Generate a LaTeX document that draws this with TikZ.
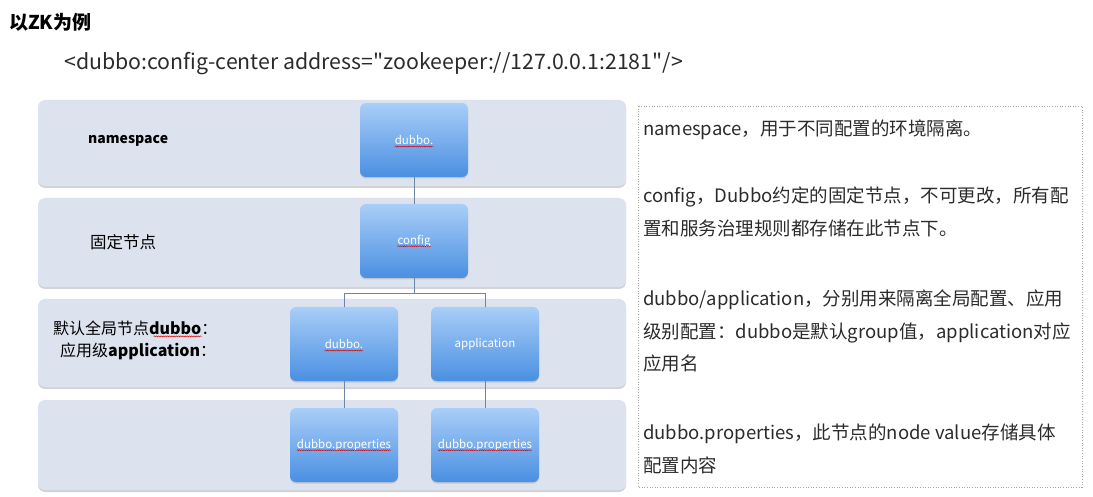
\documentclass[tikz,border=0pt]{standalone}
\usepackage{fontspec}
\setmainfont{Noto Sans CJK SC}[Ligatures=TeXOff]
\usetikzlibrary{shadows,decorations.pathmorphing}
\definecolor{bandfill}{HTML}{DDE3EE}
\definecolor{boxtop}{HTML}{A9CEF8}
\definecolor{boxbot}{HTML}{4A8FE1}
\definecolor{linkc}{HTML}{6E86A6}
\definecolor{txt}{HTML}{2B2B2B}
\begin{document}
\begin{tikzpicture}[x=1pt,y=-1pt]

    \tikzset{
      band/.style={
        fill=bandfill,
        rounded corners=7pt,
        drop shadow={shadow xshift=0pt,shadow yshift=-2pt,opacity=0.35},
      },
      leaf/.style={
        rounded corners=6pt,
        top color=boxtop,
        bottom color=boxbot,
        minimum width=108pt,
        minimum height=74pt,
        inner sep=0pt,
        drop shadow={shadow xshift=0pt,shadow yshift=-1.5pt,opacity=0.3},
      },
      leaftext/.style={
        text=white,
        inner sep=0pt,
        font=\fontsize{11.5}{13}\selectfont,
      },
      squiggle/.style={
        draw=red!85!black,
        line width=0.45pt,
        decorate,
        decoration={snake,amplitude=0.55pt,segment length=2.2pt},
      },
      link/.style={draw=linkc,line width=0.9pt},
      panel/.style={draw=black!35,line width=0.7pt,dash pattern=on 1pt off 1.6pt},
      note/.style={
        anchor=west,
        align=left,
        inner sep=0pt,
        text=txt,
        font=\fontsize{18.5}{32.5}\selectfont,
      },
    }
    \useasboundingbox (0,0) rectangle (1093,497);

    \node[anchor=west,inner sep=0pt,font=\bfseries\fontsize{19}{21}\selectfont] (title) at (9,22) {以ZK为例};
    \node[anchor=west,inner sep=0pt,text=txt,font=\fontsize{21.3}{23}\selectfont] (cfgline) at (64,64) {<dubbo:config-center address="zookeeper://127.0.0.1:2181"/>};

    % levels
    \fill[band] (38,100) rectangle (626,186);
    \fill[band] (38,198) rectangle (626,287);
    \fill[band] (38,299) rectangle (626,387);
    \fill[band] (38,400) rectangle (626,490);

    \node[anchor=west,inner sep=0pt,font=\bfseries\fontsize{14}{16}\selectfont] (nslbl) at (88,141) {namespace};
    \node[anchor=west,inner sep=0pt,font=\fontsize{16.5}{18}\selectfont] (fixlbl) at (90,242) {固定节点};
    \node[anchor=west,inner sep=0pt,font=\fontsize{16}{18}\selectfont] (deflbl) at (53,328) {默认全局节点\textbf{dubbo}：};
    \node[anchor=west,inner sep=0pt,font=\fontsize{16}{18}\selectfont] (applbl) at (60,351) {应用级\textbf{application}：};
    \draw[squiggle] ([xshift=-64pt,yshift=-2.2pt]deflbl.base east) -- ([xshift=-16pt,yshift=-2.2pt]deflbl.base east);

    % tree
    \node[leaf] (ns) at (414,140) {};
    \node[leaf] (cfg) at (414,241) {};
    \node[leaf] (dub) at (344,344) {};
    \node[leaf] (app) at (485,344) {};
    \node[leaf] (dubp) at (344,445) {};
    \node[leaf] (appp) at (485,445) {};

    \node[leaftext] (nstxt) at (ns) {dubbo.};
    \node[leaftext] (cfgtxt) at (cfg) {config};
    \node[leaftext] (dubtxt) at (dub) {dubbo.};
    \node[leaftext] (apptxt) at (app) {application};
    \node[leaftext] (dubptxt) at (dubp) {dubbo.properties};
    \node[leaftext] (appptxt) at (appp) {dubbo.properties};
    \foreach \t in {nstxt,cfgtxt,dubtxt,dubptxt,appptxt}
      \draw[squiggle] ([yshift=-2pt]\t.base west) -- ([yshift=-2pt]\t.base east);

    \draw[link] (ns) -- (cfg);
    \draw[link] (cfg.south) -- ++(0,15) coordinate (fork);
    \draw[link] (dub.north) |- (fork) -| (app.north);
    \draw[link] (dub) -- (dubp);
    \draw[link] (app) -- (appp);

    % notes
    \draw[panel] (638,106) rectangle (1082,487);
    \node[note] (n1) at (643,130) {namespace，用于不同配置的环境隔离。};
    \node[note] (n2) at (643,212) {config，Dubbo约定的固定节点，不可更改，所有配\\置和服务治理规则都存储在此节点下。};
    \node[note] (n3) at (643,331) {dubbo/application，分别用来隔离全局配置、应用\\级别配置：dubbo是默认group值，application对应\\应用名};
    \node[note] (n4) at (643,449) {dubbo.properties，此节点的node value存储具体\\配置内容};

\end{tikzpicture}
\end{document}
